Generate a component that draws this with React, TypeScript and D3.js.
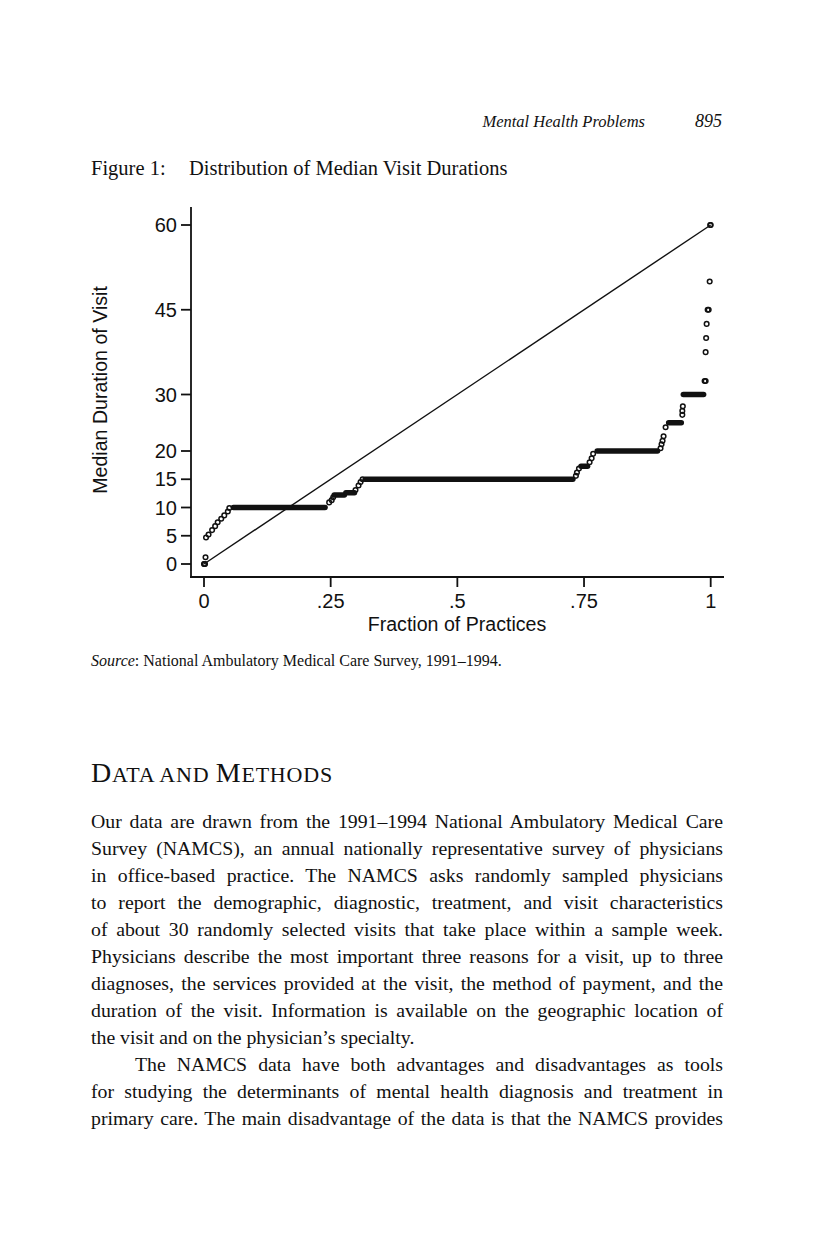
import React, { useEffect, useRef } from "react";
import * as d3 from "d3";

// ---- data ----
const yTickValues = [0, 5, 10, 15, 20, 30, 45, 60];
const xTickValues = [0, 0.25, 0.5, 0.75, 1];
const xTickLabels = ["0", ".25", ".5", ".75", "1"];

// flat runs of many observations (value in minutes, start / end fraction)
const runValues = [10, 12.2, 12.6, 15, 17.3, 20, 25, 30];
const runStarts = [0.058, 0.257, 0.280, 0.318, 0.744, 0.776, 0.917, 0.946];
const runEnds = [0.239, 0.277, 0.297, 0.728, 0.757, 0.895, 0.942, 0.986];

// individual observations (fraction of practices, median minutes)
const pointFractions = [
  0, 0.001, 0.002, 0.003, 0.004, 0.009, 0.016, 0.022, 0.027, 0.034, 0.04, 0.047, 0.05,
  0.247, 0.252, 0.255, 0.299, 0.305, 0.309, 0.313,
  0.734, 0.736, 0.74, 0.761, 0.765, 0.768,
  0.901, 0.903, 0.905, 0.907, 0.911,
  0.944, 0.944, 0.945,
  0.988, 0.99, 0.99, 0.991, 0.992, 0.994, 0.996, 0.998, 0.999, 1.0,
];
const pointMinutes = [
  0, 0, 0, 1.2, 4.7, 5.2, 6, 6.7, 7.4, 8, 8.6, 9.3, 9.9,
  10.9, 11.3, 11.8, 13.1, 13.9, 14.5, 15,
  15.6, 16.2, 16.9, 18, 18.7, 19.5,
  20.5, 21.2, 21.8, 22.6, 24.2,
  26.4, 27.1, 27.9,
  32.4, 32.4, 37.5, 40, 42.5, 45, 45, 50, 60, 60,
];

const refLine = [
  [0, 0],
  [1, 60],
];

const bodyLines = [
  "Our data are drawn from the 1991\u20131994 National Ambulatory Medical Care",
  "Survey (NAMCS), an annual nationally representative survey of physicians",
  "in office-based practice. The NAMCS asks randomly sampled physicians",
  "to report the demographic, diagnostic, treatment, and visit characteristics",
  "of about 30 randomly selected visits that take place within a sample week.",
  "Physicians describe the most important three reasons for a visit, up to three",
  "diagnoses, the services provided at the visit, the method of payment, and the",
  "duration of the visit. Information is available on the geographic location of",
  "the visit and on the physician\u2019s specialty.",
  "The NAMCS data have both advantages and disadvantages as tools",
  "for studying the determinants of mental health diagnosis and treatment in",
  "primary care. The main disadvantage of the data is that the NAMCS provides",
];
const bodyJustify = [true, true, true, true, true, true, true, true, false, true, true, true];
const bodyIndent = [0, 0, 0, 0, 0, 0, 0, 0, 0, 44, 0, 0];

const SANS = "'Liberation Sans', Arial, Helvetica, sans-serif";
const SERIF = "'Liberation Serif', 'Times New Roman', serif";

export default function App() {
  const svgRef = useRef<SVGSVGElement>(null);

  const x = d3.scaleLinear().domain([0, 1]).range([204, 710.7]);
  const y = d3.scaleLinear().domain([0, 60]).range([564, 225]);

  const axisLeft = 191;
  const axisBottom = 577;

  const lineGen = d3
    .line<number[]>()
    .x((d) => x(d[0]))
    .y((d) => y(d[1]));

  useEffect(() => {
    const svg = d3.select(svgRef.current);
    svg.selectAll<SVGTextElement, unknown>("text.justify").each(function () {
      const node = this as SVGTextElement;
      const target = parseFloat(node.getAttribute("data-width") || "0");
      node.setAttribute("word-spacing", "0");
      const natural = node.getComputedTextLength();
      const txt = node.textContent || "";
      const spaces = (txt.match(/ /g) || []).length;
      if (spaces > 0) {
        const ws = (target - natural) / spaces;
        node.setAttribute("word-spacing", String(ws));
      }
    });
  }, []);

  const bodyLeft = 91;
  const bodyRight = 723;
  const bodyTop = 828;
  const lineStep = 27;

  return (
    <svg
      ref={svgRef}
      width={816}
      height={1252}
      style={{ position: "absolute", left: 0, top: 0, display: "block", background: "#fff" }}
    >
      <rect x={0} y={0} width={816} height={1252} fill="#fff" />

      {/* running header */}
      <text x={645} y={127} fontFamily={SERIF} fontStyle="italic" fontSize={16.5} textAnchor="end" fill="#111">
        Mental Health Problems
      </text>
      <text x={722} y={127} fontFamily={SERIF} fontStyle="italic" fontSize={18} textAnchor="end" fill="#111">
        895
      </text>

      {/* figure title */}
      <text x={91} y={175} fontFamily={SERIF} fontSize={20.5} fill="#111">
        Figure 1:
      </text>
      <text x={189} y={175} fontFamily={SERIF} fontSize={20.5} fill="#111">
        Distribution of Median Visit Durations
      </text>

      {/* axes */}
      <g stroke="#111" strokeWidth={1.8} fill="none">
        <line x1={axisLeft} x2={axisLeft} y1={207} y2={axisBottom + 0.9} />
        <line x1={axisLeft - 0.9} x2={724} y1={axisBottom} y2={axisBottom} />
        {yTickValues.map((v) => (
          <line key={"yt" + v} x1={axisLeft - 10} x2={axisLeft} y1={y(v)} y2={y(v)} />
        ))}
        {xTickValues.map((v) => (
          <line key={"xt" + v} x1={x(v)} x2={x(v)} y1={axisBottom} y2={axisBottom + 10} />
        ))}
      </g>
      <g fontFamily={SANS} fontSize={20} fill="#111">
        {yTickValues.map((v) => (
          <text key={"yl" + v} x={177} y={y(v)} dy="0.36em" textAnchor="end">
            {v}
          </text>
        ))}
        {xTickValues.map((v, i) => (
          <text key={"xl" + v} x={x(v)} y={608} textAnchor="middle">
            {xTickLabels[i]}
          </text>
        ))}
      </g>
      <g fontFamily={SANS} fontSize={19.6} fill="#111">
        <text x={457} y={631} textAnchor="middle">
          Fraction of Practices
        </text>
        <text transform="translate(107,390) rotate(-90)" textAnchor="middle">
          Median Duration of Visit
        </text>
      </g>

      {/* reference line */}
      <path d={lineGen(refLine) || ""} stroke="#111" strokeWidth={1.4} fill="none" />

      {/* dense runs of observations */}
      <g stroke="#111" strokeWidth={5.5} strokeLinecap="round">
        {runValues.map((v, i) => (
          <line key={"run" + i} x1={x(runStarts[i])} x2={x(runEnds[i])} y1={y(v)} y2={y(v)} />
        ))}
      </g>

      {/* individual observations */}
      <g stroke="#111" strokeWidth={1.5} fill="none">
        {pointFractions.map((f, i) => (
          <circle key={"pt" + i} cx={x(f)} cy={y(pointMinutes[i])} r={2.3} />
        ))}
      </g>

      {/* source */}
      <text x={91} y={666} fontFamily={SERIF} fontSize={16} fill="#111">
        <tspan fontStyle="italic">Source</tspan>
        <tspan>{": National Ambulatory Medical Care Survey, 1991\u20131994."}</tspan>
      </text>

      {/* section heading in small caps */}
      <text x={91} y={782} fontFamily={SERIF} fill="#111" letterSpacing={0.8}>
        <tspan fontSize={28}>D</tspan>
        <tspan fontSize={22}>{"ATA AND "}</tspan>
        <tspan fontSize={28}>M</tspan>
        <tspan fontSize={22}>ETHODS</tspan>
      </text>

      {/* body text */}
      <g fontFamily={SERIF} fontSize={19.8} fill="#111">
        {bodyLines.map((t, i) => (
          <text
            key={"b" + i}
            className={bodyJustify[i] ? "justify" : undefined}
            data-width={bodyRight - bodyLeft - bodyIndent[i]}
            x={bodyLeft + bodyIndent[i]}
            y={bodyTop + i * lineStep}
          >
            {t}
          </text>
        ))}
      </g>
    </svg>
  );
}
